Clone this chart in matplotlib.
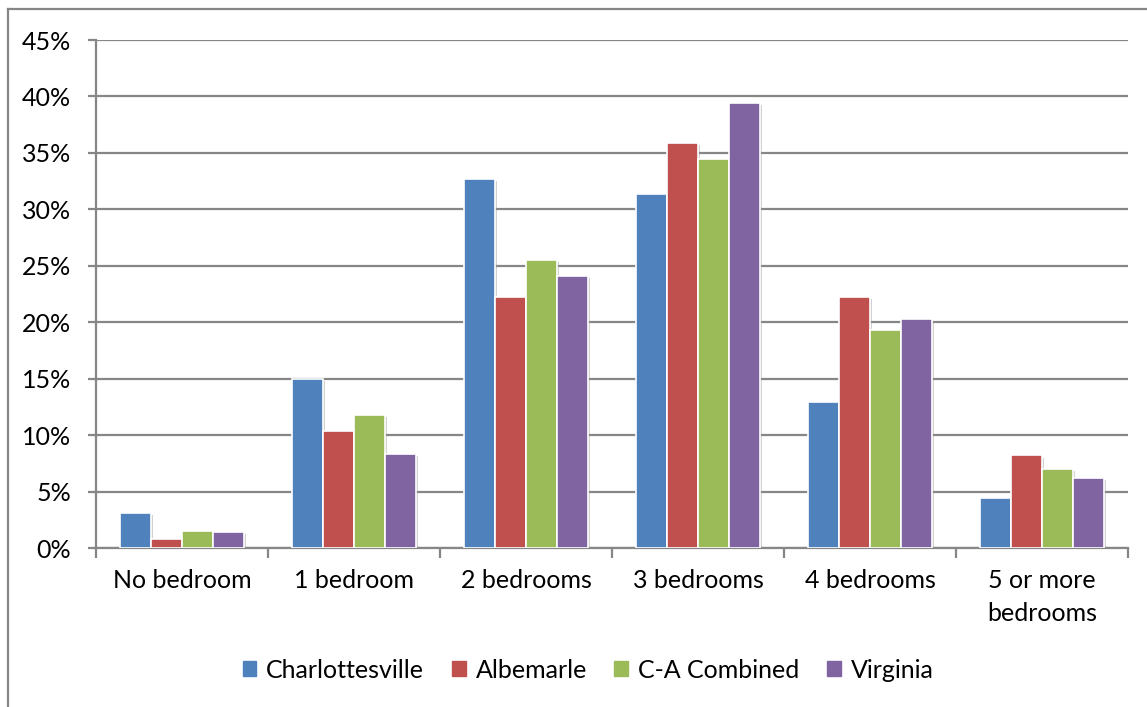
import matplotlib
matplotlib.use("Agg")
import matplotlib.pyplot as plt
import matplotlib.patheffects as pe
from matplotlib.patches import Rectangle
from matplotlib.ticker import FuncFormatter, MultipleLocator
import numpy as np

plt.rcParams["font.family"] = ["Lato", "DejaVu Sans"]

categories = ["No bedroom", "1 bedroom", "2 bedrooms", "3 bedrooms",
              "4 bedrooms", "5 or more\nbedrooms"]
series_names = ["Charlottesville", "Albemarle", "C-A Combined", "Virginia"]
charlottesville = [3.1, 15.0, 32.7, 31.4, 12.9, 4.4]
albemarle = [0.8, 10.4, 22.2, 35.9, 22.2, 8.2]
ca_combined = [1.5, 11.8, 25.5, 34.5, 19.3, 7.0]
virginia = [1.4, 8.3, 24.1, 39.4, 20.3, 6.2]
colors = ["#4F81BD", "#C0504D", "#9BBB59", "#8064A2"]

W, H = 1147, 707
FS = 18
fig = plt.figure(figsize=(W / 100, H / 100), dpi=100)
ax = fig.add_axes([96 / W, (H - 548) / H, (1128 - 96) / W, (548 - 40) / H])

# outer chart border (top and left edges only show)
fig.add_artist(plt.Line2D([8 / W, 1.0], [1 - 9 / H, 1 - 9 / H],
                          transform=fig.transFigure, color="#868686", lw=1.6))
fig.add_artist(plt.Line2D([8 / W, 8 / W], [1 - 9 / H, 0.0],
                          transform=fig.transFigure, color="#868686", lw=1.6))

x = np.arange(len(categories))
width = 0.18
shadow = [pe.SimplePatchShadow(offset=(1.5, -1.5), shadow_rgbFace="#9a9a9a", alpha=0.45),
          pe.Normal()]
for i, (vals, name, color) in enumerate(zip([charlottesville, albemarle, ca_combined, virginia],
                                            series_names, colors)):
    bars = ax.bar(x + (i - 1.5) * width, vals, width, color=color, edgecolor="white",
                  linewidth=1.2, label=name, zorder=3)
    for b in bars:
        b.set_path_effects(shadow)

ax.set_ylim(0, 45)
ax.set_xlim(-0.5, len(categories) - 0.5)
ax.yaxis.set_major_locator(MultipleLocator(5))
ax.yaxis.set_major_formatter(FuncFormatter(lambda v, p: f"{v:.0f}%"))
ax.grid(axis="y", color="#868686", lw=1.6, zorder=0)

ax.set_xticks(np.arange(-0.5, len(categories)), minor=False)
ax.set_xticklabels([])
ax.set_xticks(x, minor=True)
ax.set_xticklabels(categories, minor=True, fontsize=FS, linespacing=1.55)
ax.tick_params(axis="x", which="major", length=7, width=1.6, color="#868686")
ax.tick_params(axis="x", which="minor", length=0, pad=15)
ax.tick_params(axis="y", length=6, width=1.6, color="#868686", labelsize=FS, pad=12)

for side in ["top", "right"]:
    ax.spines[side].set_visible(False)
for side in ["left", "bottom"]:
    ax.spines[side].set_color("#868686")
    ax.spines[side].set_linewidth(1.6)

handles = [Rectangle((0, 0), 1, 1, color=c) for c in colors]
fig.legend(handles, series_names, loc="center", bbox_to_anchor=(588 / W, 1 - 670 / H),
           ncol=4, frameon=False, fontsize=FS, handlelength=0.55, handleheight=0.55,
           handletextpad=0.4, columnspacing=1.1)

fig.savefig("out.png", dpi=100)
